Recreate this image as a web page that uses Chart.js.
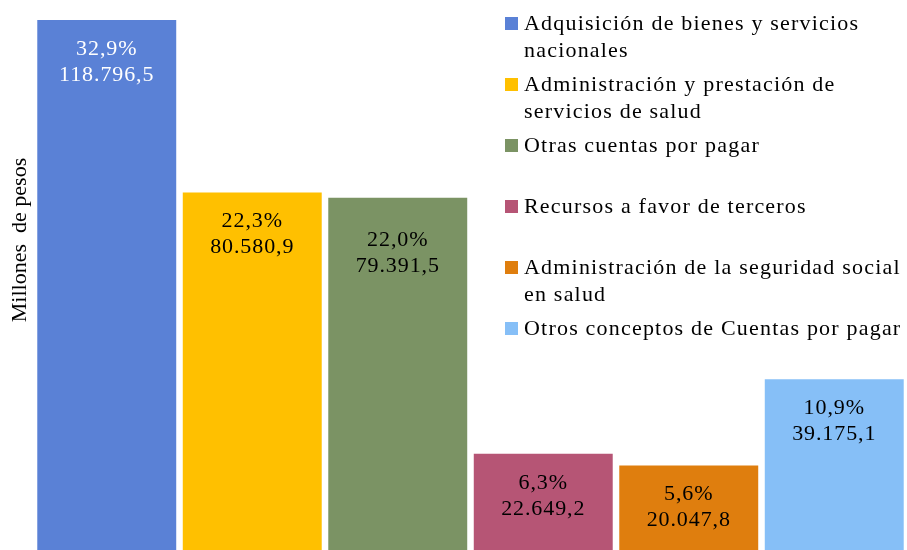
<!DOCTYPE html>
<html>
<head>
<meta charset="utf-8">
<script src="https://cdn.jsdelivr.net/npm/chart.js@4"></script>
<style>
  html, body { margin: 0; padding: 0; background: #fff; overflow: hidden; }
  #wrap { position: relative; width: 907px; height: 556px; }
  #legend { position: absolute; left: 505px; top: 9px; width: 402px;
    font-family: "Liberation Serif", "Times New Roman", serif; font-size: 22px;
    letter-spacing: 1.2px; color: #000; }
  .item { display: flex; height: 61px; }
  .box { width: 13px; height: 13px; margin-top: 8px; margin-right: 6px; flex: none; }
  .txt { line-height: 27px; width: 383px; }
</style>
</head>
<body>
<div id="wrap">
  <canvas id="myChart" width="907" height="556"></canvas>
  <div id="legend"></div>
</div>
<script>
let categories = [
  'Adquisición de bienes y servicios nacionales',
  'Administración y prestación de servicios de salud',
  'Otras cuentas por pagar',
  'Recursos a favor de terceros',
  'Administración de la seguridad social en salud',
  'Otros conceptos de Cuentas por pagar'
]
let values = [118796.5, 80580.9, 79391.5, 22649.2, 20047.8, 39175.1]
let percents = [32.9, 22.3, 22.0, 6.3, 5.6, 10.9]
let colors = ['#5A81D6', '#FFC000', '#7B9364', '#B65575', '#DF7E0E', '#86BFF7']
let labelColors = ['#fff', '#000', '#000', '#000', '#000', '#000']

function fmt(v) {
  let parts = v.toFixed(1).split('.')
  let ent = parts[0].replace(/\B(?=(\d{3})+(?!\d))/g, '.')
  return ent + ',' + parts[1]
}

// legend as html
let legend = document.getElementById('legend')
categories.map(function (c, i) {
  let item = document.createElement('div')
  item.className = 'item'
  item.innerHTML = '<span class="box" style="background:' + colors[i] + '"></span><span class="txt">' + c + '</span>'
  legend.appendChild(item)
})

// labels inside the bars + axis title
let barLabels = {
  id: 'barLabels',
  afterDatasetsDraw(chart) {
    let ctx = chart.ctx
    let meta = chart.getDatasetMeta(0)
    ctx.save()
    ctx.font = '22px "Liberation Serif", "Times New Roman", serif'
    ctx.letterSpacing = '0.9px'
    ctx.textAlign = 'center'
    ctx.textBaseline = 'middle'
    meta.data.forEach(function (bar, i) {
      // the third label sits a bit lower in the original
      let extra = i === 2 ? 13 : 0
      ctx.fillStyle = labelColors[i]
      ctx.fillText(percents[i].toFixed(1).replace('.', ',') + '%', bar.x, bar.y + 29 + extra)
      ctx.fillText(fmt(values[i]), bar.x, bar.y + 55 + extra)
    })
    ctx.restore()

    ctx.save()
    ctx.translate(20, 240)
    ctx.rotate(-Math.PI / 2)
    ctx.font = '22px "Liberation Serif", "Times New Roman", serif'
    ctx.fillStyle = '#000'
    ctx.textAlign = 'center'
    ctx.textBaseline = 'middle'
    ctx.fillText('Millones  de pesos', 0, 0)
    ctx.restore()
  }
}

var ctx = document.getElementById('myChart').getContext('2d');
var chart = new Chart(ctx, {
  type: 'bar',
  data: {
    labels: categories,
    datasets: [{
      label: 'Millones de pesos',
      backgroundColor: colors,
      data: values,
      categoryPercentage: 1,
      barPercentage: 0.955
    }]
  },
  options: {
    responsive: false,
    animation: false,
    layout: { padding: { left: 34, top: 20, right: 0, bottom: 0 } },
    plugins: { legend: { display: false }, tooltip: { enabled: false } },
    scales: {
      x: { display: false },
      y: { display: false, min: 0, max: 118796.5 }
    }
  },
  plugins: [barLabels]
});
</script>
</body>
</html>
